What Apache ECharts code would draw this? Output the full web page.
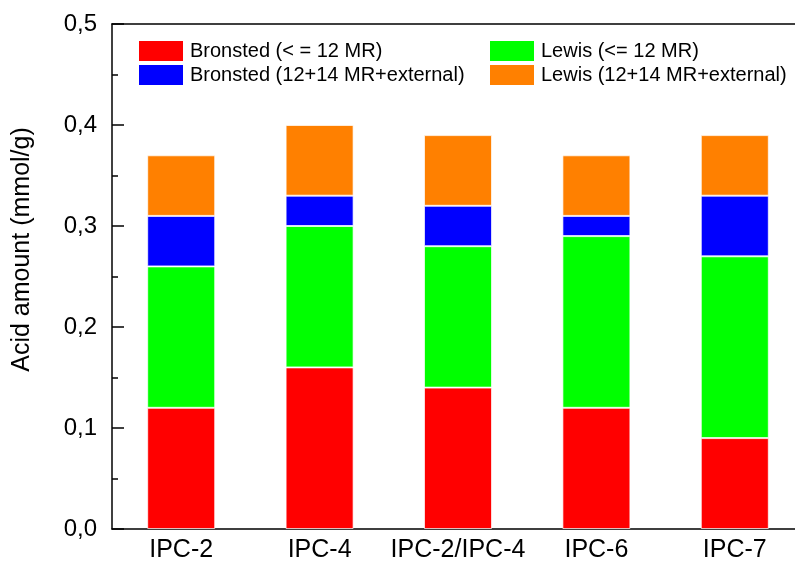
<!DOCTYPE html>
<html>
<head>
<meta charset="utf-8">
<script src="https://cdn.jsdelivr.net/npm/echarts@6/dist/echarts.min.js"></script>
<style>html,body{margin:0;padding:0;background:#fff}#c{width:795px;height:564px}</style>
</head>
<body>
<div id="c"></div>
<script>
const categories = ['IPC-2', 'IPC-4', 'IPC-2/IPC-4', 'IPC-6', 'IPC-7'];
const bronstedSmall = [0.12, 0.16, 0.14, 0.12, 0.09];
const lewisSmall = [0.14, 0.14, 0.14, 0.17, 0.18];
const bronstedLarge = [0.05, 0.03, 0.04, 0.02, 0.06];
const lewisLarge = [0.06, 0.07, 0.07, 0.06, 0.06];
const seriesNames = ['Bronsted (< = 12 MR)', 'Lewis (<= 12 MR)', 'Bronsted (12+14 MR+external)', 'Lewis (12+14 MR+external)'];
const seriesColors = ['#ff0000', '#00ff00', '#0000ff', '#ff8000'];
const seriesData = [bronstedSmall, lewisSmall, bronstedLarge, lewisLarge];

const font = 'Liberation Sans, Arial, sans-serif';
const chart = echarts.init(document.getElementById('c'));
const legendBase = {
  orient: 'vertical', top: 41, padding: 0, itemWidth: 44, itemHeight: 20, itemGap: 4,
  icon: 'rect', itemStyle: {borderWidth: 0},
  textStyle: {fontFamily: font, fontSize: 20, color: '#000', padding: [0, 0, 0, 2]}
};
chart.setOption({
  backgroundColor: '#fff',
  animation: false,
  legend: [
    Object.assign({}, legendBase, {left: 139, data: [seriesNames[0], seriesNames[2]]}),
    Object.assign({}, legendBase, {left: 490, data: [seriesNames[1], seriesNames[3]]})
  ],
  grid: {left: 112, top: 24, width: 692, height: 505, containLabel: false, outerBoundsMode: 'none'},
  xAxis: [{
    type: 'category', data: categories,
    axisLine: {lineStyle: {color: '#000', width: 1.5}},
    axisTick: {show: false},
    axisLabel: {fontFamily: font, fontSize: 25, color: '#000', margin: 9, interval: 0}
  }, {
    type: 'category', data: categories, position: 'top',
    axisLine: {lineStyle: {color: '#000', width: 1.5}},
    axisTick: {show: false}, axisLabel: {show: false}
  }],
  yAxis: {
    type: 'value', min: 0, max: 0.5, interval: 0.1,
    name: 'Acid amount (mmol/g)', nameLocation: 'middle', nameGap: 77,
    nameTextStyle: {fontFamily: font, fontSize: 25, color: '#000', padding: [0, 0, 0, 54]},
    axisLine: {show: true, lineStyle: {color: '#000', width: 1.5}},
    axisTick: {show: true, inside: true, length: 12, lineStyle: {color: '#000', width: 1.5}},
    minorTick: {show: true, splitNumber: 2, length: 6, lineStyle: {color: '#000', width: 1.5}},
    splitLine: {show: false},
    axisLabel: {fontFamily: font, fontSize: 24, color: '#000', margin: 15,
      formatter: v => v.toFixed(1).replace('.', ',')}
  },
  series: seriesData.map((d, i) => ({
    name: seriesNames[i], type: 'bar', stack: 'total', data: d, barWidth: 68,
    itemStyle: {color: seriesColors[i], borderColor: 'rgba(255,255,255,0.7)', borderWidth: 1}
  }))
});
</script>
</body>
</html>
